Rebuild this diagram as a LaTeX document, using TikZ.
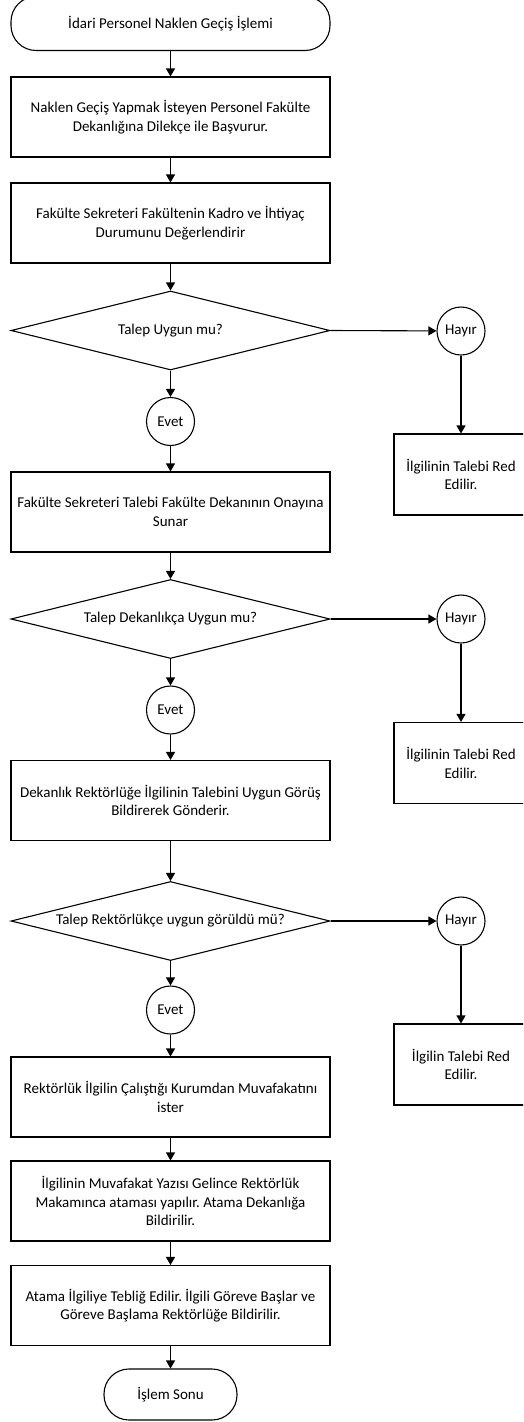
\documentclass[tikz,border=0pt]{standalone}
\usepackage{fontspec}
\setmainfont{Carlito}
\frenchspacing
\usetikzlibrary{shapes.geometric,arrows.meta}
\tikzset{
  base/.style={draw, line width=1.1pt, font=\fontsize{15pt}{18.5pt}\selectfont, align=center, inner sep=0pt},
  procbox/.style={base, rectangle, minimum width=319pt, minimum height=80pt},
  termbox/.style={base, rectangle, rounded corners=25pt, minimum height=51pt},
  decbox/.style={base, diamond, aspect=4, minimum width=319pt, minimum height=79pt},
  conn/.style={base, circle, minimum size=48pt},
  redbox/.style={base, rectangle, minimum width=134pt, minimum height=81pt},
  arr/.style={line width=1.1pt, -{Triangle[length=8pt,width=9pt]}}
}
\begin{document}
\begin{tikzpicture}[x=1pt,y=-1pt]
\useasboundingbox (0,0) rectangle (523,1422);
\clip (0,0) rectangle (523,1422);
\node[termbox, minimum width=319pt, minimum height=54pt] (start) at (170.5,23.5) {İdari Personel Naklen Geçiş İşlemi};
\node[procbox] (b1) at (170.5,117) {Naklen Geçiş Yapmak İsteyen Personel Fakülte\\Dekanlığına Dilekçe ile Başvurur.};
\node[procbox] (b2) at (170.5,223) {Fakülte Sekreteri Fakültenin Kadro ve İhtiyaç\\Durumunu Değerlendirir};
\node[decbox] (d1) at (170.5,330.5) {Talep Uygun mu?};
\node[conn] (e1) at (170.5,421.5) {Evet};
\node[conn] (h1) at (461,331) {Hayır};
\node[redbox] (r1) at (461,474.5) {İlgilinin Talebi Red\\Edilir.};
\node[procbox] (b3) at (170.5,512) {Fakülte Sekreteri Talebi Fakülte Dekanının Onayına\\Sunar};
\node[decbox] (d2) at (170.5,619) {Talep Dekanlıkça Uygun mu?};
\node[conn] (e2) at (170.5,710) {Evet};
\node[conn] (h2) at (461,619) {Hayır};
\node[redbox] (r2) at (461,763) {İlgilinin Talebi Red\\Edilir.};
\node[procbox] (b4) at (170.5,800.5) {Dekanlık Rektörlüğe İlgilinin Talebini Uygun Görüş\\Bildirerek Gönderir.};
\node[decbox] (d3) at (170.5,921) {Talep Rektörlükçe uygun görüldü mü?};
\node[conn] (e3) at (170.5,1010) {Evet};
\node[conn] (h3) at (461,921) {Hayır};
\node[redbox] (r3) at (461,1064.5) {İlgilin Talebi Red\\Edilir.};
\node[procbox] (b5) at (170.5,1097) {Rektörlük İlgilin Çalıştığı Kurumdan Muvafakatını\\ister};
\node[procbox] (b6) at (170.5,1201) {İlgilinin Muvafakat Yazısı Gelince Rektörlük\\Makamınca ataması yapılır. Atama Dekanlığa\\Bildirilir.};
\node[procbox] (b7) at (170.5,1305.5) {Atama İlgiliye Tebliğ Edilir. İlgili Göreve Başlar ve\\Göreve Başlama Rektörlüğe Bildirilir.};
\node[termbox, minimum width=133pt] (end) at (170.5,1394.5) {İşlem Sonu};
\draw[arr] (start) -- (b1);
\draw[arr] (b1) -- (b2);
\draw[arr] (b2) -- (d1);
\draw[arr] (d1) -- (e1);
\draw[arr] (e1) -- (b3);
\draw[arr] (d1.east) -- (h1);
\draw[arr] (h1) -- (r1);
\draw[arr] (b3) -- (d2);
\draw[arr] (d2) -- (e2);
\draw[arr] (e2) -- (b4);
\draw[arr] (d2.east) -- (h2);
\draw[arr] (h2) -- (r2);
\draw[arr] (b4) -- (d3);
\draw[arr] (d3) -- (e3);
\draw[arr] (e3) -- (b5);
\draw[arr] (d3.east) -- (h3);
\draw[arr] (h3) -- (r3);
\draw[arr] (b5) -- (b6);
\draw[arr] (b6) -- (b7);
\draw[arr] (b7) -- (end);
\end{tikzpicture}
\end{document}
